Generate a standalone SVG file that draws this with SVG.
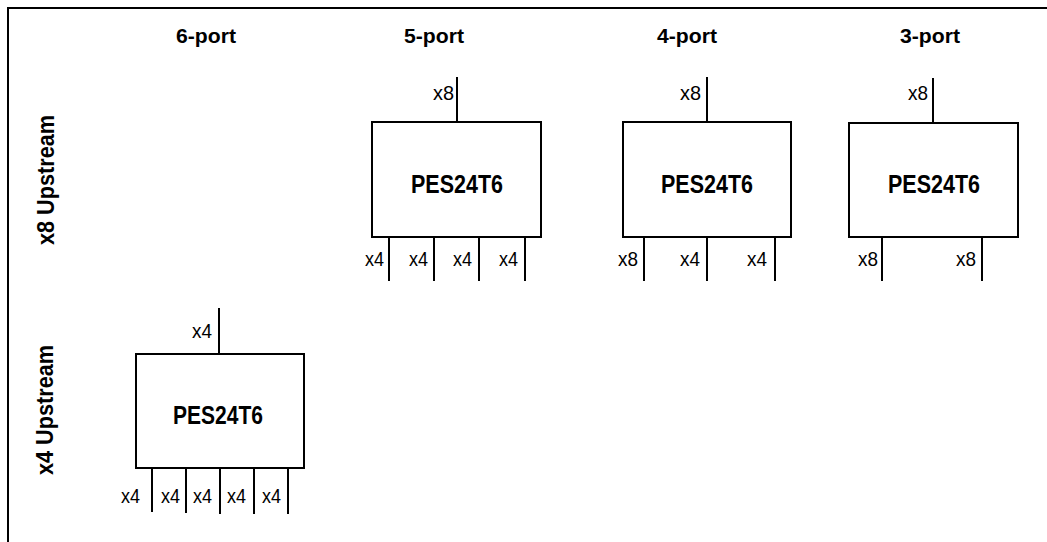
<svg xmlns="http://www.w3.org/2000/svg" width="1047" height="542" viewBox="0 0 1047 542">
<style>
.frame{fill:none;stroke:#000;stroke-width:2}
.box{fill:#fff;stroke:#000;stroke-width:2}
.stub{stroke:#000;stroke-width:2;fill:none}
text{font-family:"Liberation Sans Narrow","Liberation Sans",Arial,sans-serif;fill:#000}
.hdr{font-size:20px;font-weight:bold;text-anchor:middle}
.side{font-size:23px;font-weight:bold;text-anchor:middle}
.chip{font-size:26px;font-weight:bold;text-anchor:middle}
.port{font-size:20px;text-anchor:end}
</style>
<rect width="1047" height="542" fill="#fff"/>
<path class="frame" d="M8,542 V8 H1047"/>
<g id="headers">
<text class="hdr" x="206" y="43" textLength="60" lengthAdjust="spacingAndGlyphs">6-port</text>
<text class="hdr" x="434" y="43" textLength="60" lengthAdjust="spacingAndGlyphs">5-port</text>
<text class="hdr" x="687" y="43" textLength="60" lengthAdjust="spacingAndGlyphs">4-port</text>
<text class="hdr" x="930" y="43" textLength="60" lengthAdjust="spacingAndGlyphs">3-port</text>
</g>
<g id="row-labels">
<text class="side" transform="translate(54,180) rotate(-90)" textLength="130" lengthAdjust="spacingAndGlyphs">x8 Upstream</text>
<text class="side" transform="translate(53,410) rotate(-90)" textLength="130" lengthAdjust="spacingAndGlyphs">x4 Upstream</text>
</g>
<g id="connectors">
<line class="stub" x1="457" y1="77" x2="457" y2="122"/>
<line class="stub" x1="389" y1="235" x2="389" y2="281"/>
<line class="stub" x1="434" y1="237" x2="434" y2="281"/>
<line class="stub" x1="479" y1="237" x2="479" y2="281"/>
<line class="stub" x1="525" y1="237" x2="525" y2="281"/>
<line class="stub" x1="707" y1="77" x2="707" y2="122"/>
<line class="stub" x1="644" y1="235" x2="644" y2="281"/>
<line class="stub" x1="707" y1="237" x2="707" y2="281"/>
<line class="stub" x1="775" y1="237" x2="775" y2="281"/>
<line class="stub" x1="933" y1="78" x2="933" y2="123"/>
<line class="stub" x1="882" y1="235" x2="882" y2="281"/>
<line class="stub" x1="982" y1="237" x2="982" y2="281"/>
<line class="stub" x1="219" y1="308" x2="219" y2="354"/>
<line class="stub" x1="152" y1="466" x2="152" y2="512"/>
<line class="stub" x1="186" y1="468" x2="186" y2="513"/>
<line class="stub" x1="220" y1="468" x2="220" y2="514"/>
<line class="stub" x1="254" y1="468" x2="254" y2="514"/>
<line class="stub" x1="288" y1="468" x2="288" y2="514"/>
</g>
<g id="switch-5port">
<rect class="box" x="372" y="122" width="169" height="115"/>
<text class="chip" x="457" y="193" textLength="92" lengthAdjust="spacingAndGlyphs">PES24T6</text>
<text class="port" x="454" y="100" textLength="21" lengthAdjust="spacingAndGlyphs">x8</text>
<text class="port" x="384" y="266" textLength="19" lengthAdjust="spacingAndGlyphs">x4</text>
<text class="port" x="428" y="266" textLength="19" lengthAdjust="spacingAndGlyphs">x4</text>
<text class="port" x="472" y="266" textLength="19" lengthAdjust="spacingAndGlyphs">x4</text>
<text class="port" x="518" y="266" textLength="19" lengthAdjust="spacingAndGlyphs">x4</text>
</g>
<g id="switch-4port">
<rect class="box" x="623" y="122" width="168" height="115"/>
<text class="chip" x="707" y="193" textLength="92" lengthAdjust="spacingAndGlyphs">PES24T6</text>
<text class="port" x="701" y="100" textLength="21" lengthAdjust="spacingAndGlyphs">x8</text>
<text class="port" x="638" y="266" textLength="20" lengthAdjust="spacingAndGlyphs">x8</text>
<text class="port" x="700" y="266" textLength="20" lengthAdjust="spacingAndGlyphs">x4</text>
<text class="port" x="767" y="266" textLength="20" lengthAdjust="spacingAndGlyphs">x4</text>
</g>
<g id="switch-3port">
<rect class="box" x="849" y="123" width="169" height="114"/>
<text class="chip" x="934" y="193" textLength="92" lengthAdjust="spacingAndGlyphs">PES24T6</text>
<text class="port" x="928" y="100" textLength="20" lengthAdjust="spacingAndGlyphs">x8</text>
<text class="port" x="878" y="266" textLength="20" lengthAdjust="spacingAndGlyphs">x8</text>
<text class="port" x="976" y="266" textLength="20" lengthAdjust="spacingAndGlyphs">x8</text>
</g>
<g id="switch-6port">
<rect class="box" x="136" y="354" width="168" height="114"/>
<text class="chip" x="218" y="424" textLength="90" lengthAdjust="spacingAndGlyphs">PES24T6</text>
<text class="port" x="212" y="338" textLength="20" lengthAdjust="spacingAndGlyphs">x4</text>
<text class="port" x="140" y="503" textLength="19" lengthAdjust="spacingAndGlyphs">x4</text>
<text class="port" x="180" y="503" textLength="19" lengthAdjust="spacingAndGlyphs">x4</text>
<text class="port" x="212" y="503" textLength="19" lengthAdjust="spacingAndGlyphs">x4</text>
<text class="port" x="246" y="503" textLength="19" lengthAdjust="spacingAndGlyphs">x4</text>
<text class="port" x="281" y="503" textLength="19" lengthAdjust="spacingAndGlyphs">x4</text>
</g>
</svg>
